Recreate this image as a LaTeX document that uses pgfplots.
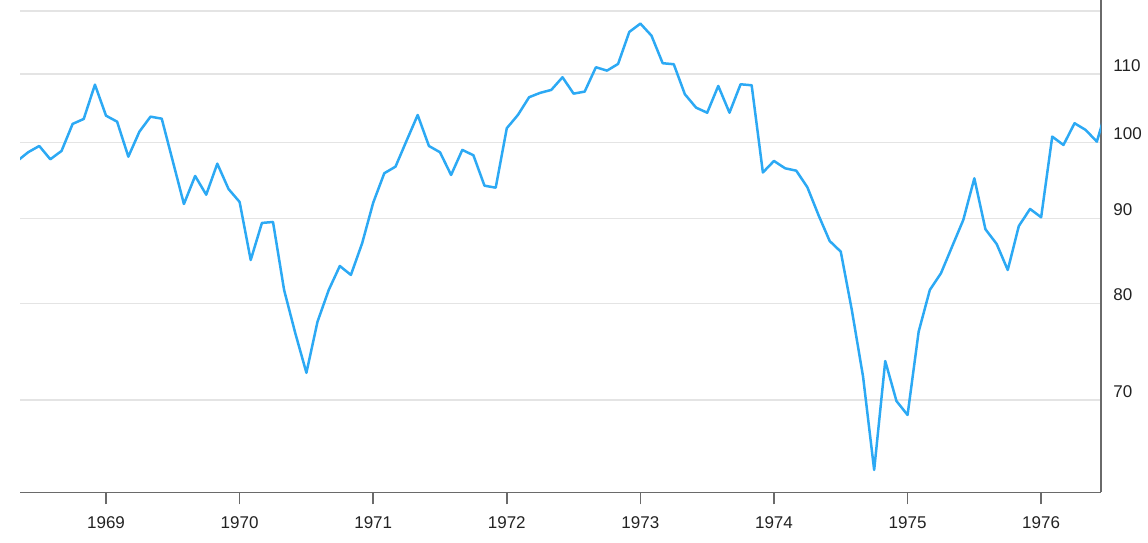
\documentclass[border=0pt]{standalone}
\usepackage{pgfplots}
\pgfplotsset{compat=1.18}
\usepackage{fontspec}
\setmainfont{Liberation Sans}
\definecolor{linec}{HTML}{2CA9F4}
\definecolor{gridc}{HTML}{E4E4E4}
\definecolor{axc}{HTML}{6A6A6A}
\definecolor{txt}{HTML}{222222}
\begin{document}
\begin{tikzpicture}
\begin{axis}[name=ax,
  scale only axis, width=540.5pt, height=246.25pt,
  xmin=1968.356, xmax=1976.448,
  ymode=log, ymin=61.58, ymax=121.87,
  axis x line*=bottom, axis y line*=right,
  axis line style={draw=axc, line width=0.9pt},
  xtick={1969,1970,1971,1972,1973,1974,1975,1976},
  xticklabels={1969,1970,1971,1972,1973,1974,1975,1976},
  ytick={70,80,90,100,110,120},
  yticklabels={70,80,90,100,110,{}},
  ymajorgrids, major grid style={draw=gridc, line width=0.65pt},
  x tick style={draw=axc, line width=0.75pt},
  xtick align=outside, major tick length=6pt,
  y tick style={draw=none},
  ytick align=inside,
  minor tick num=0,
  log ticks with fixed point,
  tick label style={font=\fontsize{8.5pt}{10pt}\selectfont, text=txt},
  xticklabel style={anchor=north, inner sep=0pt, yshift=-6pt},
  yticklabel style={anchor=west, inner sep=0pt, xshift=6pt, yshift=4.35pt},
  /pgf/number format/assume math mode=true,
  clip=true,
]
\addplot[color=linec, line width=1.25pt, line join=round, mark=none] coordinates {
(1968.333,97.45) (1968.417,98.68) (1968.500,99.54) (1968.583,97.72) (1968.667,98.86)
(1968.750,102.63) (1968.833,103.34) (1968.917,108.37)
(1969.000,103.81) (1969.083,102.95) (1969.167,98.08) (1969.250,101.54) (1969.333,103.67)
(1969.417,103.38) (1969.500,97.45) (1969.583,91.85) (1969.667,95.49) (1969.750,93.04)
(1969.833,97.13) (1969.917,93.78)
(1970.000,92.11) (1970.083,84.99) (1970.167,89.47) (1970.250,89.59) (1970.333,81.53)
(1970.417,76.78) (1970.500,72.70) (1970.583,78.03) (1970.667,81.53) (1970.750,84.29)
(1970.833,83.25) (1970.917,86.98)
(1971.000,92.02) (1971.083,95.85) (1971.167,96.73) (1971.250,100.28) (1971.333,103.91)
(1971.417,99.54) (1971.500,98.68) (1971.583,95.62) (1971.667,99.00) (1971.750,98.27)
(1971.833,94.21) (1971.917,93.95)
(1972.000,102.02) (1972.083,103.91) (1972.167,106.50) (1972.250,107.15) (1972.333,107.58)
(1972.417,109.49) (1972.500,107.03) (1972.583,107.33) (1972.667,111.02) (1972.750,110.50)
(1972.833,111.53) (1972.917,116.59)
(1973.000,117.94) (1973.083,115.99) (1973.167,111.64) (1973.250,111.48) (1973.333,106.94)
(1973.417,104.97) (1973.500,104.24) (1973.583,108.18) (1973.667,104.24) (1973.750,108.43)
(1973.833,108.28) (1973.917,95.95)
(1974.000,97.50) (1974.083,96.51) (1974.167,96.19) (1974.250,94.00) (1974.333,90.46)
(1974.417,87.26) (1974.500,85.98) (1974.583,79.30) (1974.667,72.30) (1974.750,63.53)
(1974.833,73.89) (1974.917,69.90)
(1975.000,68.56) (1975.083,76.95) (1975.167,81.55) (1975.250,83.44) (1975.333,86.57)
(1975.417,89.84) (1975.500,95.18) (1975.583,88.69) (1975.667,86.90) (1975.750,83.82)
(1975.833,89.09) (1975.917,91.22)
(1976.000,90.18) (1976.083,100.84) (1976.167,99.68) (1976.250,102.73) (1976.333,101.78)
(1976.417,100.14) (1976.500,105.50)
};
\end{axis}
\pgfresetboundingbox
\path[use as bounding box] (ax.south west) ++(-10pt,-24.75pt) rectangle ++(574pt,271pt);
\end{tikzpicture}
\end{document}
